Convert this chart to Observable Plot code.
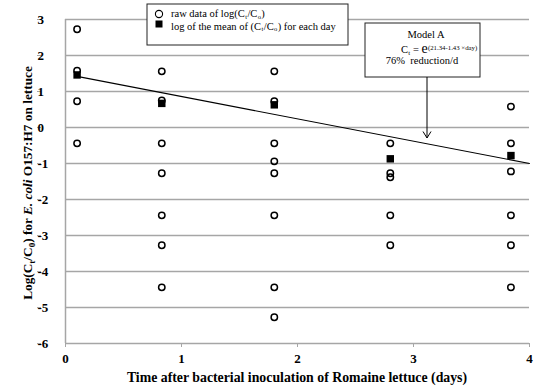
<!DOCTYPE html>
<html>
<head>
<meta charset="utf-8">
<script src="https://cdn.jsdelivr.net/npm/d3@7"></script>
<script src="https://cdn.jsdelivr.net/npm/@observablehq/plot@0.6"></script>
<style>
  html, body { margin: 0; padding: 0; background: #fff; }
  #chart svg { display: block; }
</style>
</head>
<body>
<div id="chart"></div>
<script>
// Sampling days after inoculation
const days = [0.1, 0.83, 1.8, 2.8, 3.84];

// Raw log(Ct/C0) values per sampling day
const rawDay0 = [2.73, 1.58, 0.73, -0.44];
const rawDay1 = [1.56, 0.75, -0.44, -1.27, -2.44, -3.27, -4.44];
const rawDay2 = [1.56, 0.73, -0.44, -0.94, -1.27, -2.44, -4.44, -5.27];
const rawDay3 = [-0.44, -1.27, -1.38, -2.44, -3.27];
const rawDay4 = [0.58, -0.44, -1.22, -2.44, -3.27, -4.44];

// log of the mean of Ct/C0 for each day
const meanLog = [1.46, 0.67, 0.63, -0.87, -0.78];

// Model A fitted line
const fitDays = [0.1, 4];
const fitLog = [1.42, -1.0];

const xTicks = [0, 1, 2, 3, 4];
const yTicks = [3, 2, 1, 0, -1, -2, -3, -4, -5, -6];

const raw = [rawDay0, rawDay1, rawDay2, rawDay3, rawDay4]
  .flatMap((vals, i) => vals.map(v => ({day: days[i], log: v})));
const means = days.map((d, i) => ({day: d, log: meanLog[i]}));
const fit = fitDays.map((d, i) => ({day: d, log: fitLog[i]}));

const grid = "#a6a6a6";
const serif = "'Liberation Serif', 'Times New Roman', serif";

const chart = Plot.plot({
  width: 537,
  height: 392,
  marginLeft: 65,
  marginRight: 8,
  marginTop: 19,
  marginBottom: 49,
  style: {fontFamily: serif, fontSize: "13px", fontWeight: "bold", background: "#fff", color: "#000"},
  x: {domain: [0, 4]},
  y: {domain: [-6, 3]},
  marks: [
    Plot.ruleY(yTicks, {stroke: grid, strokeWidth: 1.5}),
    Plot.ruleX([0], {stroke: grid, strokeWidth: 1.5}),
    Plot.axisY({
      ticks: yTicks, tickSize: 4, tickPadding: 0, textAnchor: "start", dx: -24,
      stroke: grid, fill: "#000", label: null,
      tickFormat: d => (d < 0 ? "-" + Math.abs(d) : String(d))
    }),
    Plot.axisX({
      ticks: xTicks, tickSize: 4, tickPadding: 6,
      stroke: grid, fill: "#000", label: null,
      tickFormat: d => String(d)
    }),
    Plot.line(fit, {x: "day", y: "log", stroke: "#000", strokeWidth: 1.1}),
    Plot.dot(raw, {x: "day", y: "log", r: 3.2, stroke: "#000", strokeWidth: 1.5, fill: "none"}),
    Plot.dot(means, {x: "day", y: "log", symbol: "square", r: 4.2, fill: "#000", stroke: "none"})
  ]
});

document.getElementById("chart").appendChild(chart);

const svg = d3.select(chart);

// Writes a text line made of segments; shift moves a segment down (sub) or up (super)
function rich(parent, x, y, segs, opts = {}) {
  const t = parent.append("text")
    .attr("x", x).attr("y", y)
    .attr("font-family", serif)
    .attr("font-size", opts.size || 12)
    .attr("font-weight", opts.weight || "normal")
    .attr("text-anchor", opts.anchor || "start")
    .attr("fill", "#000");
  if (opts.transform) t.attr("transform", opts.transform);
  let prev = 0;
  segs.forEach(s => {
    const shift = s.shift || 0;
    const ts = t.append("tspan").text(s.t).attr("dy", shift - prev);
    if (s.size) ts.attr("font-size", s.size);
    if (s.italic) ts.attr("font-style", "italic");
    if (s.dx) ts.attr("dx", s.dx);
    prev = shift;
  });
  return t;
}

// Axis titles
rich(svg, 297, 381.5, [{t: "Time after bacterial inoculation of Romaine lettuce (days)"}],
  {size: 13.8, weight: "bold", anchor: "middle"});

rich(svg, 0, 0, [
  {t: "Log(C"}, {t: "t", size: 9, shift: 3}, {t: "/C"}, {t: "0", size: 9, shift: 3},
  {t: ") for "}, {t: "E. coli", italic: true}, {t: " O157:H7 on lettuce"}
], {size: 13.3, weight: "bold", anchor: "middle", transform: "translate(31.5,183) rotate(-90)"});

// Legend
const leg = svg.append("g");
leg.append("rect").attr("x", 147).attr("y", 4).attr("width", 201).attr("height", 41)
  .attr("fill", "#fff").attr("stroke", "#222").attr("stroke-width", 1);
leg.append("circle").attr("cx", 159).attr("cy", 14).attr("r", 3.6)
  .attr("fill", "none").attr("stroke", "#000").attr("stroke-width", 1.1);
leg.append("rect").attr("x", 155.5).attr("y", 20.5).attr("width", 7).attr("height", 7).attr("fill", "#000");
rich(leg, 171, 17, [
  {t: "raw data of log(C"}, {t: "t", size: 6.5, shift: 1.5, dx: 0.4}, {t: "/C", dx: 0.4},
  {t: "o", size: 6.5, shift: 1.5, dx: 0.4}, {t: ")", dx: 0.4}
], {size: 10.5});
rich(leg, 171, 29.5, [
  {t: "log of the mean of (C"}, {t: "t", size: 6.5, shift: 1.5, dx: 0.4}, {t: "/C", dx: 0.4},
  {t: "o", size: 6.5, shift: 1.5, dx: 0.4}, {t: ") for each day", dx: 0.4}
], {size: 10.5});

// Model A annotation
const ann = svg.append("g");
ann.append("rect").attr("x", 365).attr("y", 23).attr("width", 115).attr("height", 54)
  .attr("fill", "#fff").attr("stroke", "#222").attr("stroke-width", 1);
rich(ann, 426, 38, [{t: "Model A"}], {size: 10.5, anchor: "middle"});
rich(ann, 401, 52.5, [
  {t: "C"}, {t: "t", size: 7, shift: 2, dx: 0.3}, {t: " = "}, {t: "e", size: 14},
  {t: "(21.34-1.43 \u00d7day)", size: 6.8, shift: -3, dx: 0.3}
], {size: 10.5});
rich(ann, 422, 64, [{t: "76%  reduction/d"}], {size: 10.5, anchor: "middle"});
ann.append("line").attr("x1", 427).attr("y1", 77).attr("x2", 427).attr("y2", 138)
  .attr("stroke", "#000").attr("stroke-width", 1);
ann.append("path").attr("d", "M423,131.5L427,138L431,131.5")
  .attr("fill", "none").attr("stroke", "#000").attr("stroke-width", 1);
</script>
</body>
</html>
